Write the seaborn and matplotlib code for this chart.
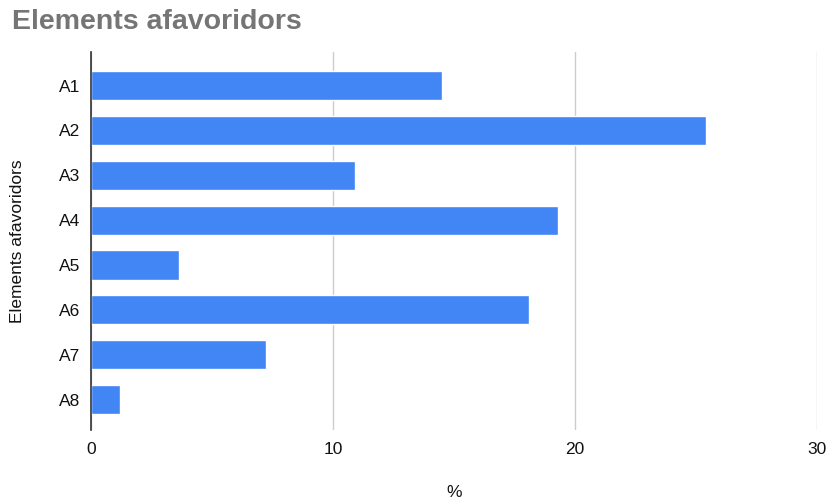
import matplotlib
matplotlib.use("Agg")
import matplotlib.pyplot as plt
import seaborn as sns
import pandas as pd

categories = ["A1", "A2", "A3", "A4", "A5", "A6", "A7", "A8"]
values = [14.5, 25.4, 10.9, 19.3, 3.65, 18.1, 7.25, 1.2]
x_ticks = [0, 10, 20, 30]

sns.set_theme(style="white")
plt.rcParams['font.family'] = ['Liberation Sans', 'DejaVu Sans']

df = pd.DataFrame({"cat": categories, "val": values})

fig = plt.figure(figsize=(8.32, 5.04), dpi=100)
ax = fig.add_axes([91/832, 1-430/504, (817-91)/832, (430-52)/504])

sns.barplot(data=df, y="cat", x="val", orient="h", color="#4285F4",
            saturation=1, width=0.65, ax=ax, zorder=3)

ax.set_xlim(0, 30)
ax.set_ylim(7.68, -0.75)
ax.set_xticks(x_ticks)
ax.set_xticklabels([str(t) for t in x_ticks])
ax.grid(axis="x", color="#cccccc", linewidth=1, zorder=0)
ax.grid(axis="y", visible=False)
for s in ["top", "right", "bottom"]:
    ax.spines[s].set_visible(False)
ax.spines["left"].set_color("#333333")
ax.spines["left"].set_linewidth(1.2)
ax.spines["left"].set_zorder(5)
ax.tick_params(axis="both", length=0, labelsize=12.5, colors="#111111")
ax.tick_params(axis="x", pad=9)
ax.tick_params(axis="y", pad=8)

ax.set_xlabel("%", fontsize=12.5, color="#111111", labelpad=20)
ax.set_ylabel("Elements afavoridors", fontsize=12.5, color="#111111", labelpad=24)

fig.text(12/832, 1-22/504, "Elements afavoridors", fontsize=20.5, fontweight="bold",
         color="#757575", ha="left", va="center")

fig.savefig("out.png", dpi=100)
